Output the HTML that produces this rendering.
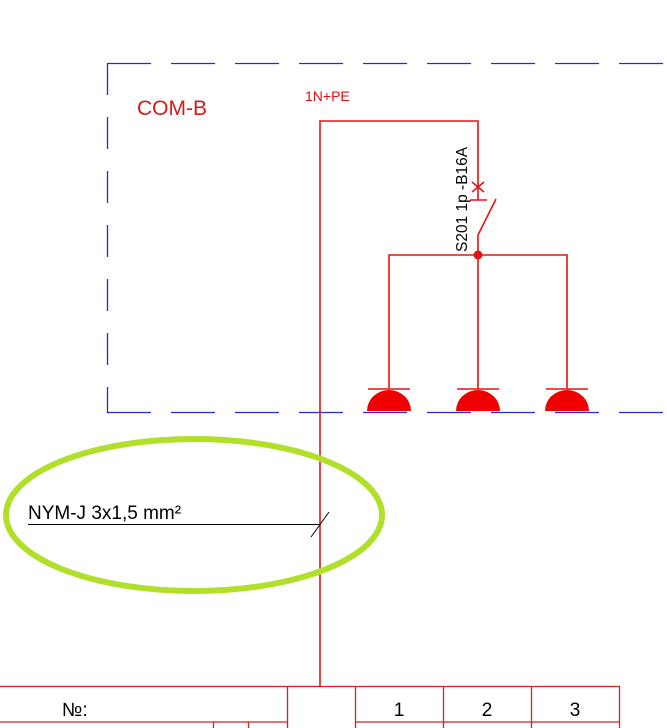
<!DOCTYPE html>
<html><head><style>
html,body{margin:0;padding:0;background:#fff;width:667px;height:728px;overflow:hidden}
</style></head><body>
<svg width="667" height="728" viewBox="0 0 667 728" xmlns="http://www.w3.org/2000/svg" font-family="Liberation Sans, sans-serif">
<g stroke="#2a2ad0" stroke-width="1.3" fill="none">
<line x1="107" y1="63.5" x2="667" y2="63.5" stroke-dasharray="44,20"/>
<line x1="107" y1="412.5" x2="667" y2="412.5" stroke-dasharray="44,20"/>
<line x1="107.5" y1="63" x2="107.5" y2="413" stroke-dasharray="32,22"/>
</g>
<text x="137" y="115" font-size="21" fill="#d41a1a">COM-B</text>
<text x="305" y="101" font-size="14" fill="#e01010">1N+PE</text>
<g stroke="#e31414" stroke-width="1.6" fill="none">
<polyline points="320,686 320,121 478,121 478,200"/>
<line x1="472" y1="182" x2="484" y2="192"/>
<line x1="484" y1="182" x2="472" y2="192"/>
<line x1="470" y1="200" x2="487" y2="200"/>
<line x1="496" y1="199" x2="478" y2="235"/>
<line x1="478" y1="235" x2="478" y2="389"/>
<polyline points="389,389 389,255 567,255 567,389"/>
<line x1="368" y1="389" x2="410" y2="389"/>
<line x1="457" y1="389" x2="499" y2="389"/>
<line x1="546" y1="389" x2="588" y2="389"/>
</g>
<circle cx="478" cy="255" r="4.5" fill="#e31414"/>
<g fill="#f00000">
<path d="M367,411 A22,21 0 0 1 411,411 Z"/>
<path d="M456,411 A22,21 0 0 1 500,411 Z"/>
<path d="M545,411 A22,21 0 0 1 589,411 Z"/>
</g>
<text transform="translate(467,252) rotate(-90)" font-size="15.5" fill="#000">S201 1p -B16A</text>
<ellipse cx="194" cy="515" rx="188" ry="76" fill="none" stroke="#b0e02a" stroke-width="6"/>
<text x="28" y="519" font-size="19" fill="#000">NYM-J 3x1,5 mm²</text>
<line x1="28" y1="524.5" x2="320" y2="524.5" stroke="#000" stroke-width="1"/>
<line x1="311" y1="537" x2="329" y2="512" stroke="#000" stroke-width="1"/>
<g stroke="#d42020" stroke-width="1.3" fill="none">
<line x1="0" y1="686.5" x2="620" y2="686.5"/>
<line x1="0" y1="722" x2="287" y2="722"/>
<line x1="355" y1="722" x2="620" y2="722"/>
<line x1="287.5" y1="686" x2="287.5" y2="728"/>
<line x1="355.5" y1="686" x2="355.5" y2="728"/>
<line x1="443.5" y1="686" x2="443.5" y2="728"/>
<line x1="531.5" y1="686" x2="531.5" y2="728"/>
<line x1="619.5" y1="686" x2="619.5" y2="728"/>
<line x1="213.5" y1="722" x2="213.5" y2="728"/>
<line x1="248.5" y1="722" x2="248.5" y2="728"/>
</g>
<text x="62" y="716" font-size="19" fill="#000">№:</text>
<text x="399" y="716" font-size="19" fill="#000" text-anchor="middle">1</text>
<text x="487" y="716" font-size="19" fill="#000" text-anchor="middle">2</text>
<text x="575" y="716" font-size="19" fill="#000" text-anchor="middle">3</text>
</svg>
</body></html>
